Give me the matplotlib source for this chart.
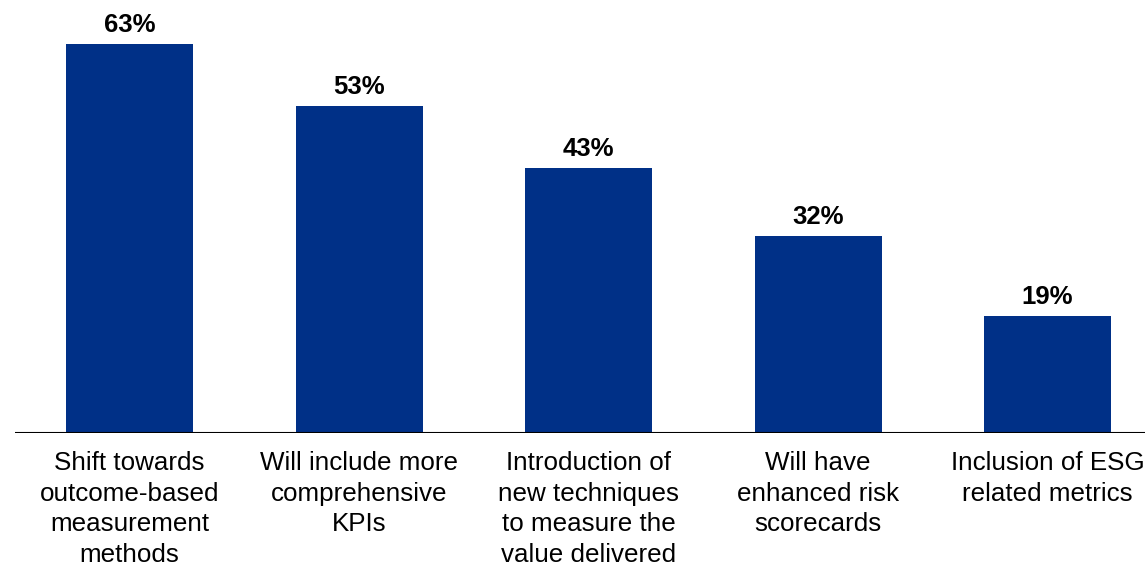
import matplotlib.pyplot as plt

# chart data
categories = ["Shift towards\noutcome-based\nmeasurement\nmethods",
              "Will include more\ncomprehensive\nKPIs",
              "Introduction of\nnew techniques\nto measure the\nvalue delivered",
              "Will have\nenhanced risk\nscorecards",
              "Inclusion of ESG\nrelated metrics"]
values = [63, 53, 43, 32, 19]

barColor = "#003087"
plt.rcParams['font.family'] = ['Liberation Sans', 'DejaVu Sans']

fig = plt.figure(figsize=(11.45, 5.67), dpi=100)
ax = fig.add_axes([15/1145, 134/567, 1130/1145, 432/567], frameon=False)

x = list(range(len(values)))
bars = ax.bar(x, values, width=0.553, color=barColor)
for b, v in zip(bars, values):
	ax.annotate(f"{v}%", (b.get_x() + b.get_width()/2, v), xytext=(0, 5), textcoords="offset points",
	            ha="center", va="bottom", fontsize=18.5, fontweight="bold", color="black")

ax.set_xlim(-0.5, (1145 - 129.5) / 229.5)
ax.set_ylim(0, 70)
ax.axhline(0, color="black", lw=1.5)
ax.set_yticks([])
ax.set_xticks(x)
ax.set_xticklabels(categories, fontsize=18.7, linespacing=1.35)
ax.tick_params(axis="x", length=0, pad=13)

fig.savefig("out.png", dpi=100)
